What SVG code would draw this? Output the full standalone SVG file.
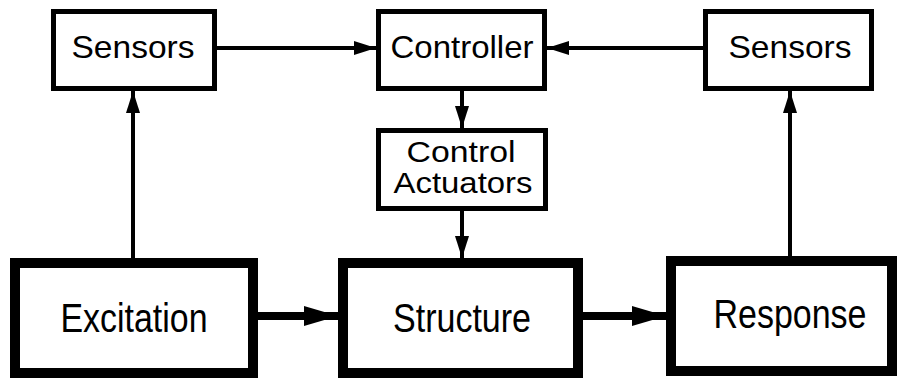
<svg xmlns="http://www.w3.org/2000/svg" width="903" height="378" viewBox="0 0 903 378">
  <style>
    .box { fill: #ffffff; stroke: #000000; stroke-width: 5; }
    .heavy { fill: #ffffff; stroke: #000000; stroke-width: 10; }
    .lbl { font-family: "Liberation Sans", Arial, sans-serif; font-size: 32px; fill: #000000; text-anchor: middle; }
    .two { font-size: 30px; }
    .big { font-size: 40px; }
    .thin { stroke: #000000; stroke-width: 4; fill: none; }
    .thick { stroke: #000000; stroke-width: 8; fill: none; }
  </style>
  <defs>
    <marker id="headThin" markerUnits="userSpaceOnUse" markerWidth="22" markerHeight="14" refX="22" refY="7" orient="auto">
      <path d="M0,0 L22,7 L0,14 Z" fill="#000000"/>
    </marker>
    <marker id="headThick" markerUnits="userSpaceOnUse" markerWidth="34" markerHeight="20" refX="34" refY="10" orient="auto">
      <path d="M0,0 L34,10 L0,20 Z" fill="#000000"/>
    </marker>
  </defs>

  <rect width="903" height="378" fill="#ffffff"/>

  <!-- signal paths -->
  <g id="connectors">
    <line class="thin" x1="217" y1="48" x2="376" y2="48" marker-end="url(#headThin)"/>
    <line class="thin" x1="703" y1="48" x2="547" y2="48" marker-end="url(#headThin)"/>
    <line class="thin" x1="462" y1="91" x2="462" y2="128" marker-end="url(#headThin)"/>
    <line class="thin" x1="462" y1="211" x2="462" y2="258" marker-end="url(#headThin)"/>
    <line class="thin" x1="133" y1="258" x2="133" y2="91" marker-end="url(#headThin)"/>
    <line class="thin" x1="790" y1="256" x2="790" y2="91" marker-end="url(#headThin)"/>
    <line class="thick" x1="258" y1="316" x2="338" y2="316" marker-end="url(#headThick)"/>
    <line class="thick" x1="583" y1="316" x2="666" y2="316" marker-end="url(#headThick)"/>
  </g>

  <g id="sensors-left">
    <rect class="box" x="53.5" y="11.5" width="161" height="77"/>
    <text class="lbl" x="133" y="58" textLength="123" lengthAdjust="spacingAndGlyphs">Sensors</text>
  </g>
  <g id="controller">
    <rect class="box" x="378.5" y="11.5" width="166" height="77"/>
    <text class="lbl" x="462" y="58" textLength="143" lengthAdjust="spacingAndGlyphs">Controller</text>
  </g>
  <g id="sensors-right">
    <rect class="box" x="705.5" y="11.5" width="166" height="77"/>
    <text class="lbl" x="790" y="58" textLength="123" lengthAdjust="spacingAndGlyphs">Sensors</text>
  </g>
  <g id="control-actuators">
    <rect class="box" x="378.5" y="130.5" width="167" height="78"/>
    <text class="lbl two" x="461" y="162" textLength="109" lengthAdjust="spacingAndGlyphs">Control</text>
    <text class="lbl two" x="463" y="193" textLength="139" lengthAdjust="spacingAndGlyphs">Actuators</text>
  </g>
  <g id="excitation">
    <rect class="heavy" x="15" y="263" width="238" height="110"/>
    <text class="lbl big" x="134" y="332" textLength="147" lengthAdjust="spacingAndGlyphs">Excitation</text>
  </g>
  <g id="structure">
    <rect class="heavy" x="343" y="263" width="235" height="110"/>
    <text class="lbl big" x="462" y="332" textLength="138" lengthAdjust="spacingAndGlyphs">Structure</text>
  </g>
  <g id="response">
    <rect class="heavy" x="671" y="261" width="221" height="110"/>
    <text class="lbl big" x="790" y="328" textLength="153" lengthAdjust="spacingAndGlyphs">Response</text>
  </g>
</svg>
